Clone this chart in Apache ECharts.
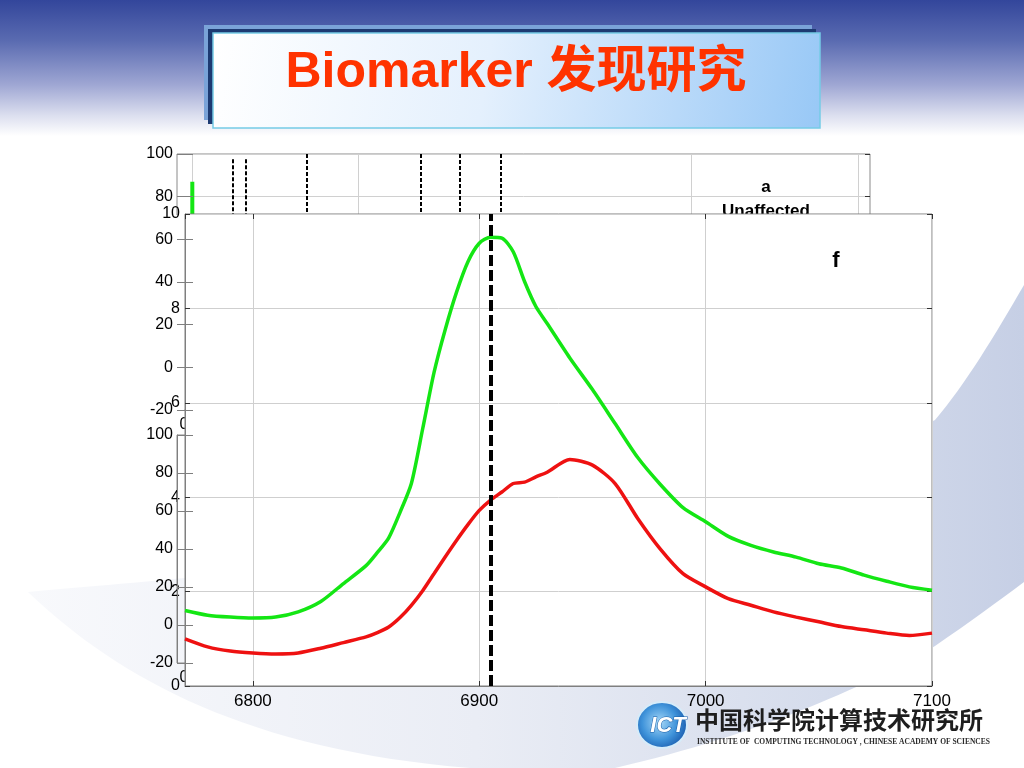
<!DOCTYPE html>
<html><head><meta charset="utf-8">
<script src="https://cdn.jsdelivr.net/npm/echarts@6/dist/echarts.min.js"></script>
<style>html,body{margin:0;padding:0;background:#fff}#c{width:1024px;height:768px}</style>
</head><body><div id="c"></div>
<script>
// ---- data ----
const mz = [6770, 6780, 6790, 6800, 6810, 6820, 6830, 6840, 6850, 6855, 6860, 6865, 6870, 6875, 6880, 6885, 6890, 6895, 6900, 6905, 6910, 6915, 6920, 6925, 6930, 6940, 6950, 6960, 6970, 6980, 6990, 7000, 7010, 7020, 7030, 7040, 7050, 7060, 7070, 7080, 7090, 7100];
const greenIntensity = [1.60, 1.50, 1.46, 1.44, 1.46, 1.57, 1.79, 2.17, 2.55, 2.83, 3.14, 3.68, 4.29, 5.45, 6.64, 7.56, 8.35, 8.99, 9.38, 9.51, 9.49, 9.20, 8.57, 8.04, 7.68, 6.95, 6.28, 5.56, 4.84, 4.27, 3.78, 3.48, 3.17, 2.98, 2.84, 2.73, 2.59, 2.50, 2.35, 2.22, 2.10, 2.03];
const redIntensity = [1.00, 0.83, 0.74, 0.70, 0.68, 0.70, 0.80, 0.92, 1.04, 1.13, 1.25, 1.45, 1.71, 2.02, 2.38, 2.74, 3.09, 3.42, 3.72, 3.94, 4.11, 4.29, 4.32, 4.43, 4.53, 4.80, 4.68, 4.29, 3.55, 2.90, 2.38, 2.10, 1.85, 1.71, 1.57, 1.46, 1.36, 1.26, 1.19, 1.12, 1.07, 1.12];
const markerMz = 6905;
const fgXRange = [6770, 7100];
const fgYRange = [0, 10];
const bgXRange = [-184, 8144];
const bgYRange = [-20, 100];
const topMarkers = [480, 637, 1381, 2751, 3219, 3704];
const topMarkerTops = [97.5, 97.5, 100, 100, 100, 100];
const topGridX = [0, 2000, 6000, 8000];
const topSpikeX = [0, 0];
const topSpikeY = [87, -20];
const titleText = 'Biomarker 发现研究';
const panelTitle = ['a', 'Unaffected'];
const panelLetter = 'f';

const FONT = "'Liberation Sans', Arial, 'Noto Sans CJK SC', sans-serif";
const GRAY = '#7f7f7f';
const GREEN = '#14e614';
const RED = '#ee1111';

// decorative slide swoosh shape
echarts.graphic.registerShape('swoosh', echarts.graphic.extendPath(
  'M 28 592 C 120 680 250 750 470 768 L 615 768 C 760 735 880 680 935 646 C 970 622 1000 600 1024 582 L 1024 285 C 995 335 965 385 935 420 C 700 540 250 572 28 592 Z', {}));

const chart = echarts.init(document.getElementById('c'), null, {renderer: 'canvas'});
const noComma = v => String(v);

function bgX(gi) {
  return {
    gridIndex: gi, type: 'value', position: 'bottom', min: bgXRange[0], max: bgXRange[1], z: 2,
    axisLine: {show: false, onZero: false}, axisTick: {show: false}, splitLine: {show: false},
    axisLabel: {showMinLabel: false, showMaxLabel: false, align: 'right', padding: [0, 4, 0, 0], formatter: noComma,
      fontSize: 16, color: '#000', margin: 7, fontFamily: FONT}
  };
}
function bgYLabels(gi, showLine) {
  return {
    gridIndex: gi, type: 'value', position: 'left', min: bgYRange[0], max: bgYRange[1], interval: 20, z: 8,
    axisLine: {show: showLine, onZero: false, lineStyle: {color: GRAY}},
    axisTick: {show: true, inside: true, length: 16, lineStyle: {color: GRAY}},
    splitLine: {show: false},
    axisLabel: {fontSize: 16, color: '#000', margin: 4, fontFamily: FONT}
  };
}

const graphics = [
  {type: 'rect', z: 0, shape: {x: 0, y: 0, width: 1024, height: 136},
   style: {fill: {type: 'linear', x: 0, y: 0, x2: 0, y2: 1, colorStops: [
     {offset: 0, color: '#33469b'}, {offset: 0.3, color: '#5a6bb1'}, {offset: 0.62, color: '#9ea6d3'},
     {offset: 0.85, color: '#dcdfef'}, {offset: 1, color: '#ffffff'}]}}},
  {type: 'swoosh', z: 0, shape: {},
   style: {fill: {type: 'linear', x: 0, y: 0, x2: 1, y2: 0, colorStops: [
     {offset: 0, color: '#f8f9fc'}, {offset: 0.45, color: '#eaedf5'}, {offset: 0.8, color: '#d5dcec'}, {offset: 1, color: '#c6cfe5'}]}}},
  {type: 'rect', z: 1, shape: {x: 204, y: 25, width: 608, height: 95}, style: {fill: '#7aa3d8'}},
  {type: 'rect', z: 1, shape: {x: 208, y: 29, width: 608, height: 95}, style: {fill: '#1d3a72'}},
  {type: 'rect', z: 1, shape: {x: 213, y: 33, width: 607, height: 95},
   style: {fill: {type: 'linear', x: 0, y: 0, x2: 1, y2: 1, colorStops: [
     {offset: 0, color: '#ffffff'}, {offset: 0.45, color: '#e4f0fd'}, {offset: 1, color: '#98c8f6'}]},
     stroke: '#76cbe6', lineWidth: 1.5}},
  {type: 'text', z: 2, style: {text: titleText, x: 516, y: 73, align: 'center', verticalAlign: 'middle',
    fontSize: 50, fontWeight: 'bold', fontFamily: FONT, fill: '#ff3300'}},
  {type: 'text', z: 3, style: {text: panelTitle[0], x: 766, y: 187, align: 'center', verticalAlign: 'middle',
    fontSize: 17, fontWeight: 'bold', fontFamily: FONT, fill: '#000'}},
  {type: 'text', z: 3, style: {text: panelTitle[1], x: 766, y: 211, align: 'center', verticalAlign: 'middle',
    fontSize: 17, fontWeight: 'bold', fontFamily: FONT, fill: '#000'}},
  // white strip hiding the lower part of panel a's left border (as in the reference)
  {type: 'rect', z: 4, shape: {x: 175.5, y: 215, width: 9, height: 196}, style: {fill: '#ffffff'}},
  {type: 'text', z: 9, style: {text: panelLetter, x: 836, y: 261, align: 'center', verticalAlign: 'middle',
    fontSize: 22, fontWeight: 'bold', fontFamily: FONT, fill: '#000'}},
  {type: 'ellipse', z: 9, shape: {cx: 662, cy: 725, rx: 25, ry: 23},
   style: {fill: {type: 'radial', x: 0.45, y: 0.45, r: 0.6, colorStops: [
     {offset: 0, color: '#a7d8f7'}, {offset: 0.6, color: '#3f93da'}, {offset: 1, color: '#1a5cae'}]},
     stroke: '#d6ecfa', lineWidth: 2}},
  {type: 'text', z: 10, style: {text: 'ICT', x: 668, y: 726, align: 'center', verticalAlign: 'middle',
    fontSize: 22, fontWeight: 'bold', fontStyle: 'italic', fontFamily: FONT, fill: '#ffffff', stroke: '#1b5ea8', lineWidth: 1}},
  {type: 'text', z: 9, style: {text: '中国科学院计算技术研究所', x: 695, y: 720, align: 'left', verticalAlign: 'middle',
    fontSize: 24, fontWeight: 'bold', fontFamily: "'Noto Sans CJK SC', sans-serif", fill: '#1e1e1e'}},
  {type: 'text', z: 9, style: {text: 'INSTITUTE OF  COMPUTING TECHNOLOGY , CHINESE ACADEMY OF SCIENCES', x: 697, y: 742,
    align: 'left', verticalAlign: 'middle', fontSize: 7.5, fontWeight: 'bold', fontFamily: "'Liberation Serif', serif", fill: '#2a2a2a'}}
];

const option = {
  animation: false,
  backgroundColor: '#ffffff',
  graphic: {elements: graphics},
  grid: [
    {left: 177, top: 154, width: 693, height: 256, show: true, borderColor: '#8a8a8a', borderWidth: 1, backgroundColor: 'transparent', z: 1},
    {left: 177, top: 435, width: 693, height: 228, show: true, borderColor: '#8a8a8a', borderWidth: 1, backgroundColor: 'transparent', z: 1},
    {left: 185, top: 214, width: 747, height: 472, show: true, borderColor: GRAY, borderWidth: 1, backgroundColor: '#ffffff', z: 5}
  ],
  xAxis: [
    bgX(0),
    bgX(1),
    {gridIndex: 2, type: 'value', position: 'bottom', min: fgXRange[0], max: fgXRange[1], splitNumber: 3, minInterval: 100, maxInterval: 100, z: 6,
     axisLine: {show: true, onZero: false, lineStyle: {color: GRAY}},
     axisTick: {show: true, inside: true, length: 5, lineStyle: {color: '#333'}},
     splitLine: {show: true, lineStyle: {color: '#cfcfcf', width: 1}},
     axisLabel: {showMinLabel: false, formatter: noComma, fontSize: 17, color: '#000', margin: 7, fontFamily: FONT}},
    {gridIndex: 2, type: 'value', position: 'top', min: fgXRange[0], max: fgXRange[1], splitNumber: 3, minInterval: 100, maxInterval: 100, z: 6,
     axisLine: {show: false, onZero: false}, axisTick: {show: true, inside: true, length: 5, lineStyle: {color: '#333'}},
     splitLine: {show: false}, axisLabel: {show: false}}
  ],
  yAxis: [
    {gridIndex: 0, type: 'value', position: 'left', min: bgYRange[0], max: bgYRange[1], interval: 20, z: 2,
     axisLine: {show: false, onZero: false}, axisTick: {show: false}, axisLabel: {show: false},
     splitLine: {show: true, lineStyle: {color: '#d0d0d0'}}},
    bgYLabels(0, false),
    {gridIndex: 0, type: 'value', position: 'right', min: bgYRange[0], max: bgYRange[1], interval: 20, z: 2,
     axisLine: {show: false, onZero: false}, axisTick: {show: true, inside: true, length: 5, lineStyle: {color: '#333'}},
     axisLabel: {show: false}, splitLine: {show: false}},
    bgYLabels(1, true),
    {gridIndex: 2, type: 'value', position: 'left', min: fgYRange[0], max: fgYRange[1], interval: 2, z: 6,
     axisLine: {show: true, onZero: false, lineStyle: {color: GRAY}},
     axisTick: {show: true, inside: true, length: 5, lineStyle: {color: '#333'}},
     splitLine: {show: true, lineStyle: {color: '#cfcfcf', width: 1}},
     axisLabel: {fontSize: 16, color: '#000', margin: 5, fontFamily: FONT}},
    {gridIndex: 2, type: 'value', position: 'right', min: fgYRange[0], max: fgYRange[1], interval: 2, z: 6,
     axisLine: {show: false, onZero: false}, axisTick: {show: true, inside: true, length: 5, lineStyle: {color: '#333'}},
     axisLabel: {show: false}, splitLine: {show: false}}
  ],
  series: [
    {type: 'line', name: 'topGrid', xAxisIndex: 0, yAxisIndex: 0, z: 2, data: [], silent: true,
     markLine: {z: 2, silent: true, symbol: 'none', label: {show: false}, animation: false,
       lineStyle: {color: '#d0d0d0', width: 1, type: 'solid'},
       data: topGridX.map(v => ({xAxis: v}))}},
    {type: 'line', name: 'topSpike', xAxisIndex: 0, yAxisIndex: 0, z: 3, symbol: 'none', silent: true,
     data: topSpikeX.map((x, i) => [x, topSpikeY[i]]), lineStyle: {color: GREEN, width: 4}},
    {type: 'line', name: 'topMarkers', xAxisIndex: 0, yAxisIndex: 0, z: 3, data: [], silent: true,
     markLine: {z: 3, silent: true, symbol: 'none', label: {show: false}, animation: false,
       lineStyle: {color: '#000', width: 2, type: [4, 2]},
       data: topMarkers.map((x, i) => [{coord: [x, topMarkerTops[i]]}, {coord: [x, bgYRange[0]]}])}},
    {type: 'line', name: 'green', xAxisIndex: 2, yAxisIndex: 4, z: 7, symbol: 'none', smooth: 0.25, silent: true,
     data: mz.map((x, i) => [x, greenIntensity[i]]), lineStyle: {color: GREEN, width: 3.5}},
    {type: 'line', name: 'red', xAxisIndex: 2, yAxisIndex: 4, z: 7, symbol: 'none', smooth: 0.25, silent: true,
     data: mz.map((x, i) => [x, redIntensity[i]]), lineStyle: {color: RED, width: 3.5}},
    {type: 'line', name: 'marker', xAxisIndex: 2, yAxisIndex: 4, z: 8, data: [], silent: true,
     markLine: {z: 8, silent: true, symbol: 'none', label: {show: false}, animation: false,
       lineStyle: {color: '#000', width: 4, type: [11, 4]},
       data: [{xAxis: markerMz}]}}
  ]
};
chart.setOption(option);
</script>
</body></html>
